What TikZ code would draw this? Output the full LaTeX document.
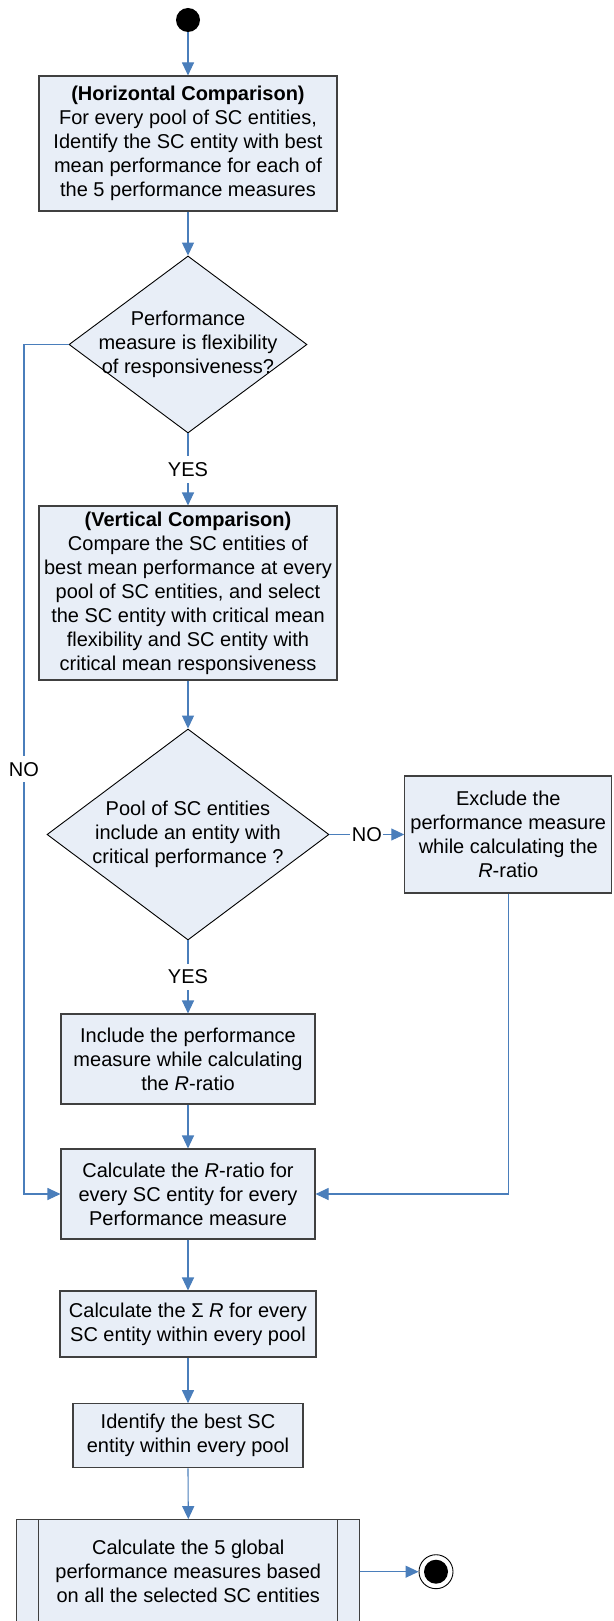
\documentclass[tikz,border=0pt]{standalone}
\usepackage{fontspec}
\setmainfont{Liberation Sans}
\usetikzlibrary{shapes.geometric,arrows.meta}
\definecolor{boxfill}{RGB}{232,238,247}
\definecolor{conncol}{RGB}{74,126,187}
\begin{document}
\begin{tikzpicture}[x=1pt,y=-1pt,
  every node/.style={font=\fontsize{20}{24}\selectfont},
  box/.style={draw=black!75, line width=1.1pt, fill=boxfill, rectangle, inner sep=0pt, align=center},
  dec/.style={draw=black, line width=0.9pt, fill=boxfill, diamond, inner sep=0pt},
  txt/.style={align=center, inner sep=0pt},
  conn/.style={draw=conncol, line width=1.1pt},
  arr/.style={conn, -{Triangle[length=13pt,width=12pt]}},
  lbl/.style={fill=white, inner xsep=1.5pt, inner ysep=6pt},
]
\useasboundingbox (0,0) rectangle (613,1621);
\fill[white] (0,0) rectangle (613,1621);

\node[circle, fill=black, minimum size=24pt, inner sep=0pt] (start) at (188,20) {};

\node[box, minimum width=298pt, minimum height=135pt] (b1) at (188,143.5)
  {\textbf{(Horizontal Comparison)}\\For every pool of SC entities,\\Identify the SC entity with best\\mean performance for each of\\the 5 performance measures};

\node[dec, minimum width=238pt, minimum height=177pt] (d1) at (188,344.5) {};
\node[txt] (d1t) at (188,344.5) {Performance\\measure is flexibility\\of responsiveness?};

\node[box, minimum width=298pt, minimum height=174pt] (b2) at (188,593)
  {\textbf{(Vertical Comparison)}\\Compare the SC entities of\\best mean performance at every\\pool of SC entities, and select\\the SC entity with critical mean\\flexibility and SC entity with\\critical mean responsiveness};

\node[dec, minimum width=282pt, minimum height=211pt] (d2) at (188,834.5) {};
\node[txt] (d2t) at (188,834) {Pool of SC entities\\include an entity with\\critical performance ?};

\node[box, minimum width=207pt, minimum height=117pt] (ex) at (508.3,834.5)
  {Exclude the\\performance measure\\while calculating the\\\textit{R}-ratio};

\node[box, minimum width=254pt, minimum height=90pt] (inc) at (188,1059)
  {Include the performance\\measure while calculating\\the \textit{R}-ratio};

\node[box, minimum width=254pt, minimum height=90pt] (calc) at (188,1194)
  {Calculate the \textit{R}-ratio for\\every SC entity for every\\Performance measure};

\node[box, minimum width=256pt, minimum height=66pt] (sig) at (188,1324)
  {Calculate the Σ \textit{R} for every\\SC entity within every pool};

\node[box, minimum width=230pt, minimum height=64pt] (idb) at (188,1435.7)
  {Identify the best SC\\entity within every pool};

\node[box, minimum width=343pt, minimum height=104pt] (fin) at (188.3,1571.7)
  {Calculate the 5 global\\performance measures based\\on all the selected SC entities};
\draw[draw=black!75, line width=1.1pt] ([xshift=22.3pt]fin.north west) -- ([xshift=22.3pt]fin.south west);
\draw[draw=black!75, line width=1.1pt] ([xshift=-22.6pt]fin.north east) -- ([xshift=-22.6pt]fin.south east);

\node[circle, draw=black, line width=0.9pt, fill=white, minimum size=34pt, inner sep=0pt] (end) at (436,1571.7) {};
\node[circle, fill=black, minimum size=24pt, inner sep=0pt] (endin) at (end.center) {};

\coordinate (nl1) at (24,344.5);
\coordinate (nl2) at (24,1194);

\draw[arr] (start) -- (b1.north);
\draw[arr] (b1.south) -- (d1.north);
\draw[arr] (d1.south) -- node[lbl]{YES} (b2.north);
\draw[arr] (b2.south) -- (d2.north);
\draw[arr] (d2.east) -- node[lbl]{NO} (ex.west);
\draw[arr] (d2.south) -- node[lbl]{YES} (inc.north);
\draw[arr] (inc.south) -- (calc.north);
\draw[arr] (d1.west) -- (nl1) -- node[lbl]{NO} (nl2) -- (calc.west);
\draw[arr] (ex.south) -- (ex.south |- calc.east) -- (calc.east);
\draw[arr] (calc.south) -- (sig.north);
\draw[arr] (sig.south) -- (idb.north);
\draw[arr] (idb.south) -- (fin.north);
\draw[arr] (fin.east) -- (end.west);
\end{tikzpicture}
\end{document}
